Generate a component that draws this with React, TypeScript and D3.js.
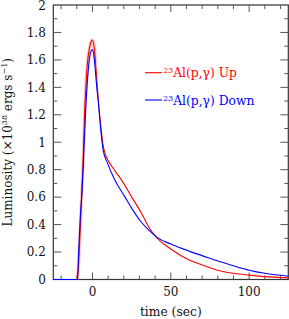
import React, { useRef, useEffect } from "react";
import * as d3 from "d3";

// time (sec) and luminosity (1e38 ergs/s)
const upTime = [-25, -9.6, -8.5, -7.5, -6.8, -6, -5, -4, -3, -2, -1, 0, 1, 2, 3, 4, 5, 5.7, 6.5, 7.4, 9, 11, 14.5, 18.5, 24.9, 31.3, 36.6, 41.5, 50, 62, 70, 81, 90, 100, 110, 125];
const upLum = [0, 0, 0.2, 0.45, 0.65, 0.85, 1.22, 1.45, 1.6, 1.68, 1.73, 1.745, 1.7, 1.58, 1.42, 1.27, 1.15, 1.08, 1.0, 0.945, 0.89, 0.848, 0.79, 0.726, 0.604, 0.483, 0.37, 0.3, 0.222, 0.14, 0.106, 0.064, 0.045, 0.032, 0.021, 0.012];

const downTime = [-25, -9.6, -8.8, -7.8, -6.6, -5.8, -4.3, -3, -2, -1, 0, 1, 2, 3, 3.6, 5.3, 6.8, 9.6, 14.2, 20.6, 25, 30.3, 35.5, 41.5, 50, 62, 70, 81, 90, 100, 110, 125];
const downLum = [0, 0, 0.2, 0.45, 0.65, 0.85, 1.24, 1.48, 1.6, 1.66, 1.675, 1.62, 1.5, 1.37, 1.31, 1.09, 0.945, 0.848, 0.726, 0.604, 0.52, 0.43, 0.365, 0.305, 0.258, 0.205, 0.174, 0.131, 0.1, 0.068, 0.045, 0.024];

const xTicks = [0, 50, 100];
const yTicks = [0, 0.2, 0.4, 0.6, 0.8, 1, 1.2, 1.4, 1.6, 1.8, 2];

const series = [
  { name: "Up", time: upTime, lum: upLum, color: "#ff0000" },
  { name: "Down", time: downTime, lum: downLum, color: "#0000ff" },
];

const LumChart = () => {
  const svgRef = useRef<SVGSVGElement>(null);

  useEffect(() => {
    const svg = d3.select(svgRef.current);
    svg.selectAll("*").remove();

    const width = 289;
    const height = 319;
    const left = 53.3, right = 288.3, top = 5, bottom = 279.5;
    const font = "'DejaVu Serif', serif";

    const x = d3.scaleLinear().domain([-25, 125]).range([left, right]);
    const y = d3.scaleLinear().domain([0, 2]).range([bottom, top]);

    svg.attr("width", width).attr("height", height);

    // frame
    svg.append("rect")
      .attr("x", left).attr("y", top)
      .attr("width", right - left).attr("height", bottom - top)
      .attr("fill", "none").attr("stroke", "#333").attr("stroke-width", 1.2);

    const tickColor = "#555";
    // x ticks, every 10, long at 50
    d3.range(-20, 121, 10).forEach(t => {
      const len = t % 50 === 0 ? 7 : 4;
      svg.append("line").attr("x1", x(t)).attr("x2", x(t)).attr("y1", bottom).attr("y2", bottom - len)
        .attr("stroke", tickColor);
      svg.append("line").attr("x1", x(t)).attr("x2", x(t)).attr("y1", top).attr("y2", top + len)
        .attr("stroke", tickColor);
    });
    // y ticks, every 0.1, long at 0.2
    d3.range(1, 20).forEach(k => {
      const v = k / 10;
      const len = k % 2 === 0 ? 8 : 4;
      svg.append("line").attr("x1", left).attr("x2", left + len).attr("y1", y(v)).attr("y2", y(v))
        .attr("stroke", tickColor);
      svg.append("line").attr("x1", right).attr("x2", right - len).attr("y1", y(v)).attr("y2", y(v))
        .attr("stroke", tickColor);
    });

    const line = d3.line<[number, number]>()
      .x(d => x(d[0]))
      .y(d => y(d[1]))
      .curve(d3.curveMonotoneX);

    // pale halo around the red peak
    const upPts = upTime.map((t, i) => [t, upLum[i]] as [number, number]);
    svg.append("path")
      .attr("d", line(upPts.filter(d => d[0] > -12 && d[0] < 3)))
      .attr("fill", "none")
      .attr("stroke", "#ff8080")
      .attr("stroke-opacity", 0.45)
      .attr("stroke-width", 3.2);

    series.forEach(s => {
      const pts = s.time.map((t, i) => [t, s.lum[i]] as [number, number]);
      svg.append("path")
        .attr("d", line(pts))
        .attr("fill", "none")
        .attr("stroke", s.color)
        .attr("stroke-width", 1.1);
    });

    svg.append("g").selectAll("text").data(xTicks).enter().append("text")
      .attr("x", d => x(d)).attr("y", 296)
      .attr("text-anchor", "middle")
      .attr("font-family", font).attr("font-size", 12).attr("fill", "#111")
      .text(d => d);

    svg.append("g").selectAll("text").data(yTicks).enter().append("text")
      .attr("x", left - 7.5).attr("y", d => (d === 2 ? y(d) + 1 : y(d)))
      .attr("dy", "0.36em")
      .attr("text-anchor", "end")
      .attr("font-family", font).attr("font-size", 12).attr("fill", "#111")
      .text(d => d3.format("~g")(d));

    svg.append("text")
      .attr("x", (left + right) / 2).attr("y", 316)
      .attr("text-anchor", "middle")
      .attr("font-family", font).attr("font-size", 12.3).attr("fill", "#111")
      .text("time (sec)");

    const yl = svg.append("text")
      .attr("transform", `translate(11.5, ${(top + bottom) / 2}) rotate(-90)`)
      .attr("text-anchor", "middle")
      .attr("font-family", font).attr("font-size", 12).attr("fill", "#111");
    yl.append("tspan").text("Luminosity (×10");
    yl.append("tspan").attr("font-size", 8).attr("dy", -4.5).text("38");
    yl.append("tspan").attr("dy", 4.5).text(" ergs s");
    yl.append("tspan").attr("font-size", 8).attr("dy", -4.5).text("−1");
    yl.append("tspan").attr("dy", 4.5).text(")");

    // legend
    series.forEach((s, i) => {
      const ly = 72.7 + i * 27.3;
      svg.append("line").attr("x1", 145).attr("x2", 162).attr("y1", ly).attr("y2", ly)
        .attr("stroke", s.color).attr("stroke-width", 1.1);
      const t = svg.append("text")
        .attr("x", 163).attr("y", ly + 4.5)
        .attr("font-family", font).attr("font-size", 12.3).attr("fill", s.color);
      t.append("tspan").attr("font-size", 8).attr("dy", -4).text("23");
      t.append("tspan").attr("dy", 4).text(`Al(p,γ) ${s.name}`);
    });
  }, []);

  return <svg ref={svgRef} style={{ position: "absolute", left: 0, top: 0 }}></svg>;
};

export default function App() {
  return <LumChart />;
}
